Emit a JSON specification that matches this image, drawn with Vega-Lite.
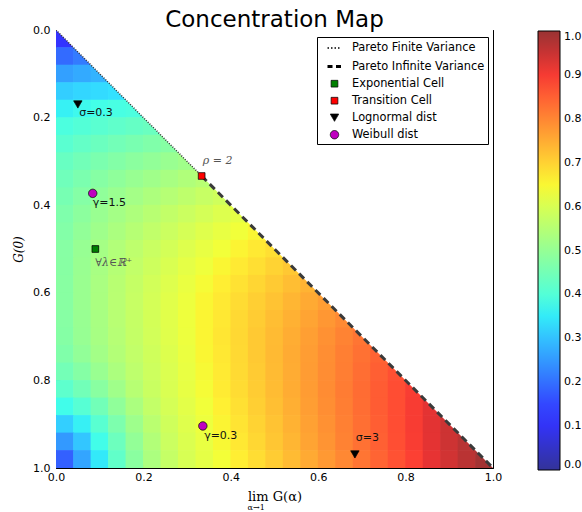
{
  "$schema": "https://vega.github.io/schema/vega-lite/v6.json",
  "width": 437,
  "height": 438,
  "autosize": {"type": "none"},
  "padding": {"left": 56, "top": 30, "right": 89, "bottom": 44},
  "background": "white",
  "title": {"text": "Concentration Map", "font": "DejaVu Sans", "fontSize": 23, "fontWeight": "normal", "color": "black", "anchor": "middle", "frame": "group", "offset": 4, "dy": 12},
  "config": {
    "view": {"stroke": null},
    "axis": {"labelFont": "DejaVu Sans", "labelFontSize": 11, "labelColor": "black", "tickColor": "black", "tickWidth": 1, "tickSize": -4, "domain": true, "domainColor": "black", "domainWidth": 1, "grid": false, "labelFlush": false, "zindex": 1, "titleColor": "black", "titleFontWeight": "normal"},
    "legend": {"labelFont": "DejaVu Sans", "labelFontSize": 11, "labelColor": "black"}
  },
  "datasets": {
    "pts": [
      {"x": 0.09, "y": 0.5, "kind": "Exponential Cell"},
      {"x": 0.3333, "y": 0.3333, "kind": "Transition Cell"},
      {"x": 0.05, "y": 0.17, "kind": "Lognormal dist"},
      {"x": 0.684, "y": 0.969, "kind": "Lognormal dist"},
      {"x": 0.084, "y": 0.373, "kind": "Weibull dist"},
      {"x": 0.336, "y": 0.904, "kind": "Weibull dist"}
    ],
    "heat": [
      {"x":0.02,"y":0.02,"v":0.116},
      {"x":0.02,"y":0.06,"v":0.194},{"x":0.06,"y":0.06,"v":0.213},
      {"x":0.02,"y":0.1,"v":0.259},{"x":0.06,"y":0.1,"v":0.271},{"x":0.1,"y":0.1,"v":0.282},
      {"x":0.02,"y":0.14,"v":0.316},{"x":0.06,"y":0.14,"v":0.325},{"x":0.1,"y":0.14,"v":0.332},{"x":0.14,"y":0.14,"v":0.339},
      {"x":0.02,"y":0.18,"v":0.357},{"x":0.06,"y":0.18,"v":0.367},{"x":0.1,"y":0.18,"v":0.375},{"x":0.14,"y":0.18,"v":0.382},{"x":0.18,"y":0.18,"v":0.389},
      {"x":0.02,"y":0.22,"v":0.388},{"x":0.06,"y":0.22,"v":0.4},{"x":0.1,"y":0.22,"v":0.41},{"x":0.14,"y":0.22,"v":0.419},{"x":0.18,"y":0.22,"v":0.427},{"x":0.22,"y":0.22,"v":0.435},
      {"x":0.02,"y":0.26,"v":0.41},{"x":0.06,"y":0.26,"v":0.425},{"x":0.1,"y":0.26,"v":0.436},{"x":0.14,"y":0.26,"v":0.448},{"x":0.18,"y":0.26,"v":0.458},{"x":0.22,"y":0.26,"v":0.468},{"x":0.26,"y":0.26,"v":0.477},
      {"x":0.02,"y":0.3,"v":0.432},{"x":0.06,"y":0.3,"v":0.447},{"x":0.1,"y":0.3,"v":0.461},{"x":0.14,"y":0.3,"v":0.473},{"x":0.18,"y":0.3,"v":0.485},{"x":0.22,"y":0.3,"v":0.495},{"x":0.26,"y":0.3,"v":0.506},{"x":0.3,"y":0.3,"v":0.516},
      {"x":0.02,"y":0.34,"v":0.443},{"x":0.06,"y":0.34,"v":0.461},{"x":0.1,"y":0.34,"v":0.477},{"x":0.14,"y":0.34,"v":0.491},{"x":0.18,"y":0.34,"v":0.504},{"x":0.22,"y":0.34,"v":0.517},{"x":0.26,"y":0.34,"v":0.529},{"x":0.3,"y":0.34,"v":0.541},{"x":0.34,"y":0.34,"v":0.552},
      {"x":0.02,"y":0.38,"v":0.455},{"x":0.06,"y":0.38,"v":0.475},{"x":0.1,"y":0.38,"v":0.492},{"x":0.14,"y":0.38,"v":0.507},{"x":0.18,"y":0.38,"v":0.522},{"x":0.22,"y":0.38,"v":0.536},{"x":0.26,"y":0.38,"v":0.549},{"x":0.3,"y":0.38,"v":0.562},{"x":0.34,"y":0.38,"v":0.575},{"x":0.38,"y":0.38,"v":0.587},
      {"x":0.02,"y":0.42,"v":0.466},{"x":0.06,"y":0.42,"v":0.487},{"x":0.1,"y":0.42,"v":0.506},{"x":0.14,"y":0.42,"v":0.523},{"x":0.18,"y":0.42,"v":0.538},{"x":0.22,"y":0.42,"v":0.553},{"x":0.26,"y":0.42,"v":0.568},{"x":0.3,"y":0.42,"v":0.581},{"x":0.34,"y":0.42,"v":0.595},{"x":0.38,"y":0.42,"v":0.608},{"x":0.42,"y":0.42,"v":0.621},
      {"x":0.02,"y":0.46,"v":0.472},{"x":0.06,"y":0.46,"v":0.495},{"x":0.1,"y":0.46,"v":0.515},{"x":0.14,"y":0.46,"v":0.533},{"x":0.18,"y":0.46,"v":0.55},{"x":0.22,"y":0.46,"v":0.566},{"x":0.26,"y":0.46,"v":0.581},{"x":0.3,"y":0.46,"v":0.596},{"x":0.34,"y":0.46,"v":0.611},{"x":0.38,"y":0.46,"v":0.625},{"x":0.42,"y":0.46,"v":0.638},{"x":0.46,"y":0.46,"v":0.652},
      {"x":0.02,"y":0.5,"v":0.478},{"x":0.06,"y":0.5,"v":0.503},{"x":0.1,"y":0.5,"v":0.524},{"x":0.14,"y":0.5,"v":0.543},{"x":0.18,"y":0.5,"v":0.561},{"x":0.22,"y":0.5,"v":0.578},{"x":0.26,"y":0.5,"v":0.594},{"x":0.3,"y":0.5,"v":0.61},{"x":0.34,"y":0.5,"v":0.625},{"x":0.38,"y":0.5,"v":0.64},{"x":0.42,"y":0.5,"v":0.655},{"x":0.46,"y":0.5,"v":0.669},{"x":0.5,"y":0.5,"v":0.683},
      {"x":0.02,"y":0.54,"v":0.479},{"x":0.06,"y":0.54,"v":0.506},{"x":0.1,"y":0.54,"v":0.528},{"x":0.14,"y":0.54,"v":0.548},{"x":0.18,"y":0.54,"v":0.567},{"x":0.22,"y":0.54,"v":0.585},{"x":0.26,"y":0.54,"v":0.603},{"x":0.3,"y":0.54,"v":0.62},{"x":0.34,"y":0.54,"v":0.636},{"x":0.38,"y":0.54,"v":0.652},{"x":0.42,"y":0.54,"v":0.668},{"x":0.46,"y":0.54,"v":0.683},{"x":0.5,"y":0.54,"v":0.698},{"x":0.54,"y":0.54,"v":0.713},
      {"x":0.02,"y":0.58,"v":0.48},{"x":0.06,"y":0.58,"v":0.508},{"x":0.1,"y":0.58,"v":0.531},{"x":0.14,"y":0.58,"v":0.553},{"x":0.18,"y":0.58,"v":0.573},{"x":0.22,"y":0.58,"v":0.592},{"x":0.26,"y":0.58,"v":0.61},{"x":0.3,"y":0.58,"v":0.628},{"x":0.34,"y":0.58,"v":0.645},{"x":0.38,"y":0.58,"v":0.662},{"x":0.42,"y":0.58,"v":0.679},{"x":0.46,"y":0.58,"v":0.695},{"x":0.5,"y":0.58,"v":0.71},{"x":0.54,"y":0.58,"v":0.726},{"x":0.58,"y":0.58,"v":0.741},
      {"x":0.02,"y":0.62,"v":0.48},{"x":0.06,"y":0.62,"v":0.508},{"x":0.1,"y":0.62,"v":0.532},{"x":0.14,"y":0.62,"v":0.554},{"x":0.18,"y":0.62,"v":0.575},{"x":0.22,"y":0.62,"v":0.595},{"x":0.26,"y":0.62,"v":0.614},{"x":0.3,"y":0.62,"v":0.633},{"x":0.34,"y":0.62,"v":0.651},{"x":0.38,"y":0.62,"v":0.669},{"x":0.42,"y":0.62,"v":0.686},{"x":0.46,"y":0.62,"v":0.703},{"x":0.5,"y":0.62,"v":0.72},{"x":0.54,"y":0.62,"v":0.737},{"x":0.58,"y":0.62,"v":0.753},{"x":0.62,"y":0.62,"v":0.769},
      {"x":0.02,"y":0.66,"v":0.478},{"x":0.06,"y":0.66,"v":0.505},{"x":0.1,"y":0.66,"v":0.529},{"x":0.14,"y":0.66,"v":0.552},{"x":0.18,"y":0.66,"v":0.573},{"x":0.22,"y":0.66,"v":0.594},{"x":0.26,"y":0.66,"v":0.614},{"x":0.3,"y":0.66,"v":0.634},{"x":0.34,"y":0.66,"v":0.653},{"x":0.38,"y":0.66,"v":0.671},{"x":0.42,"y":0.66,"v":0.69},{"x":0.46,"y":0.66,"v":0.708},{"x":0.5,"y":0.66,"v":0.726},{"x":0.54,"y":0.66,"v":0.743},{"x":0.58,"y":0.66,"v":0.761},{"x":0.62,"y":0.66,"v":0.778},{"x":0.66,"y":0.66,"v":0.795},
      {"x":0.02,"y":0.7,"v":0.476},{"x":0.06,"y":0.7,"v":0.503},{"x":0.1,"y":0.7,"v":0.527},{"x":0.14,"y":0.7,"v":0.549},{"x":0.18,"y":0.7,"v":0.571},{"x":0.22,"y":0.7,"v":0.592},{"x":0.26,"y":0.7,"v":0.613},{"x":0.3,"y":0.7,"v":0.633},{"x":0.34,"y":0.7,"v":0.653},{"x":0.38,"y":0.7,"v":0.673},{"x":0.42,"y":0.7,"v":0.692},{"x":0.46,"y":0.7,"v":0.711},{"x":0.5,"y":0.7,"v":0.73},{"x":0.54,"y":0.7,"v":0.749},{"x":0.58,"y":0.7,"v":0.767},{"x":0.62,"y":0.7,"v":0.786},{"x":0.66,"y":0.7,"v":0.804},{"x":0.7,"y":0.7,"v":0.822},
      {"x":0.02,"y":0.74,"v":0.468},{"x":0.06,"y":0.74,"v":0.495},{"x":0.1,"y":0.74,"v":0.521},{"x":0.14,"y":0.74,"v":0.545},{"x":0.18,"y":0.74,"v":0.567},{"x":0.22,"y":0.74,"v":0.588},{"x":0.26,"y":0.74,"v":0.609},{"x":0.3,"y":0.74,"v":0.63},{"x":0.34,"y":0.74,"v":0.651},{"x":0.38,"y":0.74,"v":0.671},{"x":0.42,"y":0.74,"v":0.691},{"x":0.46,"y":0.74,"v":0.711},{"x":0.5,"y":0.74,"v":0.731},{"x":0.54,"y":0.74,"v":0.751},{"x":0.58,"y":0.74,"v":0.77},{"x":0.62,"y":0.74,"v":0.789},{"x":0.66,"y":0.74,"v":0.809},{"x":0.7,"y":0.74,"v":0.828},{"x":0.74,"y":0.74,"v":0.847},
      {"x":0.02,"y":0.78,"v":0.449},{"x":0.06,"y":0.78,"v":0.476},{"x":0.1,"y":0.78,"v":0.506},{"x":0.14,"y":0.78,"v":0.535},{"x":0.18,"y":0.78,"v":0.561},{"x":0.22,"y":0.78,"v":0.584},{"x":0.26,"y":0.78,"v":0.605},{"x":0.3,"y":0.78,"v":0.626},{"x":0.34,"y":0.78,"v":0.647},{"x":0.38,"y":0.78,"v":0.668},{"x":0.42,"y":0.78,"v":0.689},{"x":0.46,"y":0.78,"v":0.709},{"x":0.5,"y":0.78,"v":0.73},{"x":0.54,"y":0.78,"v":0.75},{"x":0.58,"y":0.78,"v":0.771},{"x":0.62,"y":0.78,"v":0.791},{"x":0.66,"y":0.78,"v":0.811},{"x":0.7,"y":0.78,"v":0.832},{"x":0.74,"y":0.78,"v":0.852},{"x":0.78,"y":0.78,"v":0.872},
      {"x":0.02,"y":0.82,"v":0.416},{"x":0.06,"y":0.82,"v":0.447},{"x":0.1,"y":0.82,"v":0.482},{"x":0.14,"y":0.82,"v":0.517},{"x":0.18,"y":0.82,"v":0.551},{"x":0.22,"y":0.82,"v":0.579},{"x":0.26,"y":0.82,"v":0.602},{"x":0.3,"y":0.82,"v":0.623},{"x":0.34,"y":0.82,"v":0.644},{"x":0.38,"y":0.82,"v":0.666},{"x":0.42,"y":0.82,"v":0.687},{"x":0.46,"y":0.82,"v":0.708},{"x":0.5,"y":0.82,"v":0.729},{"x":0.54,"y":0.82,"v":0.75},{"x":0.58,"y":0.82,"v":0.771},{"x":0.62,"y":0.82,"v":0.792},{"x":0.66,"y":0.82,"v":0.813},{"x":0.7,"y":0.82,"v":0.834},{"x":0.74,"y":0.82,"v":0.855},{"x":0.78,"y":0.82,"v":0.876},{"x":0.82,"y":0.82,"v":0.897},
      {"x":0.02,"y":0.86,"v":0.372},{"x":0.06,"y":0.86,"v":0.405},{"x":0.1,"y":0.86,"v":0.447},{"x":0.14,"y":0.86,"v":0.492},{"x":0.18,"y":0.86,"v":0.533},{"x":0.22,"y":0.86,"v":0.569},{"x":0.26,"y":0.86,"v":0.596},{"x":0.3,"y":0.86,"v":0.617},{"x":0.34,"y":0.86,"v":0.638},{"x":0.38,"y":0.86,"v":0.66},{"x":0.42,"y":0.86,"v":0.681},{"x":0.46,"y":0.86,"v":0.703},{"x":0.5,"y":0.86,"v":0.725},{"x":0.54,"y":0.86,"v":0.746},{"x":0.58,"y":0.86,"v":0.768},{"x":0.62,"y":0.86,"v":0.789},{"x":0.66,"y":0.86,"v":0.811},{"x":0.7,"y":0.86,"v":0.833},{"x":0.74,"y":0.86,"v":0.855},{"x":0.78,"y":0.86,"v":0.876},{"x":0.82,"y":0.86,"v":0.898},{"x":0.86,"y":0.86,"v":0.92},
      {"x":0.02,"y":0.9,"v":0.317},{"x":0.06,"y":0.9,"v":0.356},{"x":0.1,"y":0.9,"v":0.409},{"x":0.14,"y":0.9,"v":0.463},{"x":0.18,"y":0.9,"v":0.514},{"x":0.22,"y":0.9,"v":0.556},{"x":0.26,"y":0.9,"v":0.588},{"x":0.3,"y":0.9,"v":0.611},{"x":0.34,"y":0.9,"v":0.632},{"x":0.38,"y":0.9,"v":0.654},{"x":0.42,"y":0.9,"v":0.676},{"x":0.46,"y":0.9,"v":0.698},{"x":0.5,"y":0.9,"v":0.719},{"x":0.54,"y":0.9,"v":0.742},{"x":0.58,"y":0.9,"v":0.764},{"x":0.62,"y":0.9,"v":0.786},{"x":0.66,"y":0.9,"v":0.808},{"x":0.7,"y":0.9,"v":0.831},{"x":0.74,"y":0.9,"v":0.853},{"x":0.78,"y":0.9,"v":0.876},{"x":0.82,"y":0.9,"v":0.898},{"x":0.86,"y":0.9,"v":0.921},{"x":0.9,"y":0.9,"v":0.944},
      {"x":0.02,"y":0.94,"v":0.25},{"x":0.06,"y":0.94,"v":0.305},{"x":0.1,"y":0.94,"v":0.373},{"x":0.14,"y":0.94,"v":0.439},{"x":0.18,"y":0.94,"v":0.497},{"x":0.22,"y":0.94,"v":0.544},{"x":0.26,"y":0.94,"v":0.581},{"x":0.3,"y":0.94,"v":0.606},{"x":0.34,"y":0.94,"v":0.627},{"x":0.38,"y":0.94,"v":0.649},{"x":0.42,"y":0.94,"v":0.671},{"x":0.46,"y":0.94,"v":0.693},{"x":0.5,"y":0.94,"v":0.715},{"x":0.54,"y":0.94,"v":0.737},{"x":0.58,"y":0.94,"v":0.76},{"x":0.62,"y":0.94,"v":0.782},{"x":0.66,"y":0.94,"v":0.805},{"x":0.7,"y":0.94,"v":0.828},{"x":0.74,"y":0.94,"v":0.851},{"x":0.78,"y":0.94,"v":0.874},{"x":0.82,"y":0.94,"v":0.897},{"x":0.86,"y":0.94,"v":0.92},{"x":0.9,"y":0.94,"v":0.944},{"x":0.94,"y":0.94,"v":0.967},
      {"x":0.02,"y":0.98,"v":0.18},{"x":0.06,"y":0.98,"v":0.265},{"x":0.1,"y":0.98,"v":0.348},{"x":0.14,"y":0.98,"v":0.421},{"x":0.18,"y":0.98,"v":0.483},{"x":0.22,"y":0.98,"v":0.534},{"x":0.26,"y":0.98,"v":0.572},{"x":0.3,"y":0.98,"v":0.599},{"x":0.34,"y":0.98,"v":0.62},{"x":0.38,"y":0.98,"v":0.641},{"x":0.42,"y":0.98,"v":0.663},{"x":0.46,"y":0.98,"v":0.685},{"x":0.5,"y":0.98,"v":0.707},{"x":0.54,"y":0.98,"v":0.73},{"x":0.58,"y":0.98,"v":0.752},{"x":0.62,"y":0.98,"v":0.775},{"x":0.66,"y":0.98,"v":0.798},{"x":0.7,"y":0.98,"v":0.822},{"x":0.74,"y":0.98,"v":0.845},{"x":0.78,"y":0.98,"v":0.869},{"x":0.82,"y":0.98,"v":0.893},{"x":0.86,"y":0.98,"v":0.916},{"x":0.9,"y":0.98,"v":0.94},{"x":0.94,"y":0.98,"v":0.965},{"x":0.98,"y":0.98,"v":0.989}
    ]
  },
  "layer": [
    {
      "data": {"name": "heat"},
      "mark": {"type": "square", "size": 331, "opacity": 1, "clip": true, "strokeWidth": 0},
      "encoding": {
        "x": {"field": "x", "type": "quantitative", "scale": {"domain": [0, 1], "nice": false, "zero": false},
              "axis": {"orient": "bottom", "values": [0, 0.2, 0.4, 0.6, 0.8, 1], "format": ".1f", "labelPadding": 7, "title": "lim G(α)", "titleFont": "DejaVu Serif", "titleFontSize": 13, "titlePadding": 8}},
        "y": {"field": "y", "type": "quantitative", "scale": {"domain": [0, 1], "nice": false, "zero": false, "reverse": true},
              "axis": {"orient": "left", "values": [0, 0.2, 0.4, 0.6, 0.8, 1], "format": ".1f", "labelPadding": 10, "title": "G(0)", "titleFont": "DejaVu Serif", "titleFontStyle": "italic", "titleFontSize": 12, "titlePadding": 7}},
        "color": {"field": "v", "type": "quantitative",
                  "scale": {"domain": [0, 0.11, 0.125, 0.34, 0.35, 0.375, 0.5, 0.64, 0.65, 0.66, 0.89, 0.91, 1],
                            "range": ["#333399", "#3333ff", "#3333ff", "#33e2ff", "#33ebf8", "#43ffe8", "#95ff95", "#f2ff39", "#f9f733", "#fff033", "#ff4233", "#ed3333", "#993333"],
                            "interpolate": "rgb"},
                  "legend": {"orient": "none", "legendX": 482, "legendY": 1, "direction": "vertical", "title": null, "gradientLength": 439, "gradientThickness": 22, "gradientStrokeColor": "black", "gradientStrokeWidth": 1, "values": [0, 0.1, 0.2, 0.3, 0.4, 0.5, 0.6, 0.7, 0.8, 0.9, 1], "format": ".1f", "labelOffset": 4, "labelOverlap": false, "padding": 0, "labelFontSize": 11}}
      }
    },
    {
      "data": {"values": [{"x": 0, "y": 0}, {"x": 1, "y": 1}]},
      "mark": {"type": "area", "color": "white", "opacity": 1, "clip": true},
      "encoding": {
        "x": {"field": "x", "type": "quantitative", "axis": {"orient": "top", "values": [0, 0.2, 0.4, 0.6, 0.8, 1], "labels": false, "title": null}},
        "y": {"field": "y", "type": "quantitative", "axis": {"orient": "right", "values": [0, 0.2, 0.4, 0.6, 0.8, 1], "labels": false, "title": null}},
        "y2": {"datum": 0}
      }
    },
    {
      "data": {"values": [{"x": 0, "y": 0}, {"x": 0.3333, "y": 0.3333}]},
      "mark": {"type": "line", "color": "#333333", "strokeWidth": 1.5, "strokeDash": [1, 1.5], "clip": true},
      "encoding": {
        "x": {"field": "x", "type": "quantitative", "axis": null},
        "y": {"field": "y", "type": "quantitative", "axis": null}
      }
    },
    {
      "data": {"values": [{"x": 0.3333, "y": 0.3333}, {"x": 1, "y": 1}]},
      "mark": {"type": "line", "color": "#3a3a3a", "strokeWidth": 3, "strokeDash": [7, 4.5], "clip": true},
      "encoding": {
        "x": {"field": "x", "type": "quantitative", "axis": null},
        "y": {"field": "y", "type": "quantitative", "axis": null}
      }
    },
    {
      "data": {"name": "pts"},
      "mark": {"type": "point", "filled": true, "stroke": "black", "opacity": 1},
      "encoding": {
        "x": {"field": "x", "type": "quantitative", "axis": null},
        "y": {"field": "y", "type": "quantitative", "axis": null},
        "shape": {"field": "kind", "type": "nominal",
                  "scale": {"domain": ["Pareto Finite Variance", "Pareto Infinite Variance", "Exponential Cell", "Transition Cell", "Lognormal dist", "Weibull dist"],
                            "range": ["stroke", "stroke", "square", "square", "triangle-down", "circle"]},
                  "legend": {"orient": "none", "legendX": 261, "legendY": 7, "title": null, "strokeColor": "black", "fillColor": "white", "padding": 3, "rowPadding": 4, "labelOffset": 9, "symbolOffset": 6, "labelFontSize": 11.4, "labelLimit": 300}},
        "fill": {"field": "kind", "type": "nominal",
                 "scale": {"domain": ["Pareto Finite Variance", "Pareto Infinite Variance", "Exponential Cell", "Transition Cell", "Lognormal dist", "Weibull dist"],
                           "range": ["transparent", "transparent", "#008000", "#ff0000", "#000000", "#bf00bf"]}},
        "size": {"field": "kind", "type": "nominal",
                 "scale": {"type": "ordinal", "domain": ["Pareto Finite Variance", "Pareto Infinite Variance", "Exponential Cell", "Transition Cell", "Lognormal dist", "Weibull dist"],
                           "range": [196, 196, 45, 45, 70, 70]}},
        "strokeDash": {"field": "kind", "type": "nominal",
                       "scale": {"domain": ["Pareto Finite Variance", "Pareto Infinite Variance", "Exponential Cell", "Transition Cell", "Lognormal dist", "Weibull dist"],
                                 "range": [[1.5, 2], [5, 3.5], [1, 0], [1, 0], [1, 0], [1, 0]]}},
        "strokeWidth": {"field": "kind", "type": "nominal",
                        "scale": {"type": "ordinal", "domain": ["Pareto Finite Variance", "Pareto Infinite Variance", "Exponential Cell", "Transition Cell", "Lognormal dist", "Weibull dist"],
                                  "range": [1.5, 3, 0.8, 0.8, 0.8, 0.8]}}
      }
    },
    {
      "data": {"values": [
        {"x": 0.053, "y": 0.19, "t": "σ=0.3"},
        {"x": 0.084, "y": 0.394, "t": "γ=1.5"},
        {"x": 0.339, "y": 0.926, "t": "γ=0.3"},
        {"x": 0.686, "y": 0.931, "t": "σ=3"}
      ]},
      "mark": {"type": "text", "align": "left", "baseline": "middle", "font": "DejaVu Sans", "fontSize": 11, "color": "#111111"},
      "encoding": {
        "x": {"field": "x", "type": "quantitative", "axis": null},
        "y": {"field": "y", "type": "quantitative", "axis": null},
        "text": {"field": "t"}
      }
    },
    {
      "data": {"values": [
        {"x": 0.09, "y": 0.532, "t": "∀λ∈ℝ⁺"},
        {"x": 0.336, "y": 0.298, "t": "ρ = 2"}
      ]},
      "mark": {"type": "text", "align": "left", "baseline": "middle", "font": "DejaVu Serif", "fontStyle": "italic", "fontSize": 11, "color": "#555555"},
      "encoding": {
        "x": {"field": "x", "type": "quantitative", "axis": null},
        "y": {"field": "y", "type": "quantitative", "axis": null},
        "text": {"field": "t"}
      }
    },
    {
      "data": {"values": [{"x": 0.458, "y": 1.091, "t": "α→1"}]},
      "mark": {"type": "text", "align": "center", "baseline": "middle", "font": "DejaVu Serif", "fontSize": 8, "color": "black", "clip": false},
      "encoding": {
        "x": {"field": "x", "type": "quantitative", "axis": null},
        "y": {"field": "y", "type": "quantitative", "axis": null},
        "text": {"field": "t"}
      }
    }
  ],
  "resolve": {"axis": {"x": "independent", "y": "independent"}}
}
